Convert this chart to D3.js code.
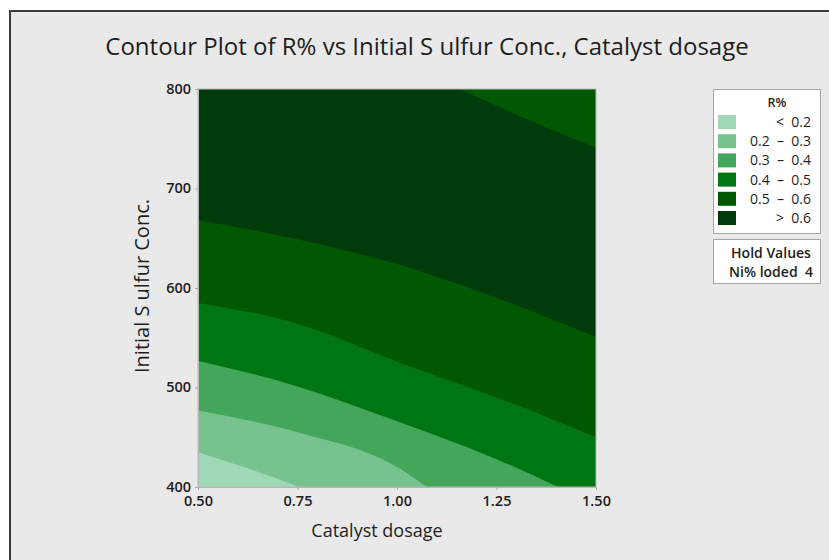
<!DOCTYPE html>
<html>
<head>
<meta charset="utf-8">
<script src="https://cdn.jsdelivr.net/npm/d3@7"></script>
<style>
  html, body { margin: 0; padding: 0; background: #ffffff; }
  svg { display: block; }
  text { font-family: "Open Sans", "Noto Sans", sans-serif; fill: #1e1e1e; }
</style>
</head>
<body>
<svg id="chart" width="829" height="560"></svg>
<script>
// Contour level classes and their fills (lowest to highest R%)
const legendLabels = ["<  0.2", "0.2  \u2013  0.3", "0.3  \u2013  0.4", "0.4  \u2013  0.5", "0.5  \u2013  0.6", ">  0.6"];
const levelColors = ["#9fd9b8", "#77c28f", "#43a65b", "#007612", "#005800", "#003b0b"];

// Contour boundaries as [Catalyst dosage, Initial Sulfur Conc.] points
const contour02 = [[0.5, 435], [0.63, 418], [0.755, 400]];
const contour03 = [[0.5, 477], [0.75, 455], [1.0, 420], [1.075, 400]];
const contour04 = [[0.5, 527], [0.75, 501], [1.0, 466], [1.25, 428], [1.405, 400]];
const contour05 = [[0.5, 585], [0.75, 564], [1.0, 526], [1.25, 490], [1.5, 450]];
const contour06 = [[0.5, 668], [0.75, 649], [1.0, 624], [1.25, 590], [1.5, 551]];
// Upper-right edge where R% drops back below 0.6
const contour06Upper = [[1.158, 800], [1.33, 769], [1.5, 741]];

const xTicks = [0.5, 0.75, 1.0, 1.25, 1.5];
const yTicks = [400, 500, 600, 700, 800];
const holdLines = ["Hold Values", "Ni% loded  4"];

const svg = d3.select("#chart");

// Panel background with a dark frame on top and left
svg.append("rect").attr("x", 10).attr("y", 11).attr("width", 829).attr("height", 560).attr("fill", "#e9e9e9");
svg.append("path").attr("d", "M10,560 L10,11 L829,11").attr("fill", "none").attr("stroke", "#3a3a3a").attr("stroke-width", 2);

const plot = { left: 198, top: 89, right: 596, bottom: 487 };
const x = d3.scaleLinear().domain([0.5, 1.5]).range([plot.left, plot.right]);
const y = d3.scaleLinear().domain([400, 800]).range([plot.bottom, plot.top]);

svg.append("clipPath").attr("id", "plotClip")
  .append("rect").attr("x", plot.left).attr("y", plot.top)
  .attr("width", plot.right - plot.left).attr("height", plot.bottom - plot.top);

const g = svg.append("g").attr("clip-path", "url(#plotClip)");

// base layer: lowest class
g.append("rect").attr("x", plot.left).attr("y", plot.top)
  .attr("width", plot.right - plot.left).attr("height", plot.bottom - plot.top)
  .attr("fill", levelColors[0]);

const curve = d3.line().x(d => x(d[0])).y(d => y(d[1])).curve(d3.curveMonotoneX);

// region above a boundary: boundary, then around the bottom-right / top corners
function regionAbove(pts) {
  const last = pts[pts.length - 1];
  let d = curve(pts);
  if (last[0] < 1.5) d += `L${x(1.5)},${y(400)}`;
  d += `L${x(1.5)},${y(800)}L${x(0.5)},${y(800)}Z`;
  return d;
}
function regionUpperRight(pts) {
  return curve(pts) + `L${x(1.5)},${y(800)}Z`;
}

[contour02, contour03, contour04, contour05, contour06].forEach((pts, i) => {
  g.append("path").attr("d", regionAbove(pts)).attr("fill", levelColors[i + 1]);
});
g.append("path").attr("d", regionUpperRight(contour06Upper)).attr("fill", levelColors[4]);

// plot frame
svg.append("rect").attr("x", plot.left).attr("y", plot.top)
  .attr("width", plot.right - plot.left).attr("height", plot.bottom - plot.top)
  .attr("fill", "none").attr("stroke", "#b8b8b8").attr("stroke-width", 1);

// axes
const xAxis = svg.append("g").attr("transform", `translate(0,${plot.bottom})`)
  .call(d3.axisBottom(x).tickValues(xTicks).tickFormat(d3.format(".2f")).tickSize(3).tickPadding(6));
const yAxis = svg.append("g").attr("transform", `translate(${plot.left},0)`)
  .call(d3.axisLeft(y).tickValues(yTicks).tickFormat(d3.format("d")).tickSize(3).tickPadding(4));
[xAxis, yAxis].forEach(a => {
  a.select(".domain").attr("stroke", "#b8b8b8");
  a.selectAll(".tick line").attr("stroke", "#a8a8a8");
  a.selectAll(".tick text").attr("font-size", 14.5).attr("font-weight", 600).attr("fill", "#222")
    .style("font-family", "'Open Sans', sans-serif");
});
yAxis.selectAll(".tick text").attr("dy", "0.3em");

// title and axis titles
svg.append("text").attr("x", 427).attr("y", 55).attr("text-anchor", "middle")
  .attr("font-size", 24).attr("font-weight", 500).text("Contour Plot of R% vs Initial S ulfur Conc., Catalyst dosage");
svg.append("text").attr("x", 377).attr("y", 537).attr("text-anchor", "middle")
  .attr("font-size", 18).attr("font-weight", 500).text("Catalyst dosage");
svg.append("text").attr("transform", `translate(149,286) rotate(-90)`)
  .attr("text-anchor", "middle").attr("font-size", 20).attr("font-weight", 500).text("Initial S ulfur Conc.");

// legend
const lg = svg.append("g");
lg.append("rect").attr("x", 713.5).attr("y", 89.5).attr("width", 107).attr("height", 144)
  .attr("fill", "#ffffff").attr("stroke", "#a6a6a6");
lg.append("text").attr("x", 777).attr("y", 107).attr("text-anchor", "middle")
  .attr("font-size", 12.5).attr("font-weight", 600).text("R%");
legendLabels.forEach((lab, i) => {
  const cy = 122 + i * 19.2;
  lg.append("rect").attr("x", 718).attr("y", cy - 7).attr("width", 18).attr("height", 14).attr("fill", levelColors[i]);
  lg.append("text").attr("x", 811).attr("y", cy + 5).attr("text-anchor", "end")
    .attr("font-size", 14).style("white-space", "pre").text(lab);
});
lg.append("rect").attr("x", 713.5).attr("y", 239.5).attr("width", 107).attr("height", 44)
  .attr("fill", "#ffffff").attr("stroke", "#a6a6a6");
holdLines.forEach((t, i) => {
  lg.append("text").attr("x", 771).attr("y", 258 + i * 19).attr("text-anchor", "middle")
    .attr("font-size", 14).attr("font-weight", 600).style("white-space", "pre").text(t);
});
</script>
</body>
</html>
